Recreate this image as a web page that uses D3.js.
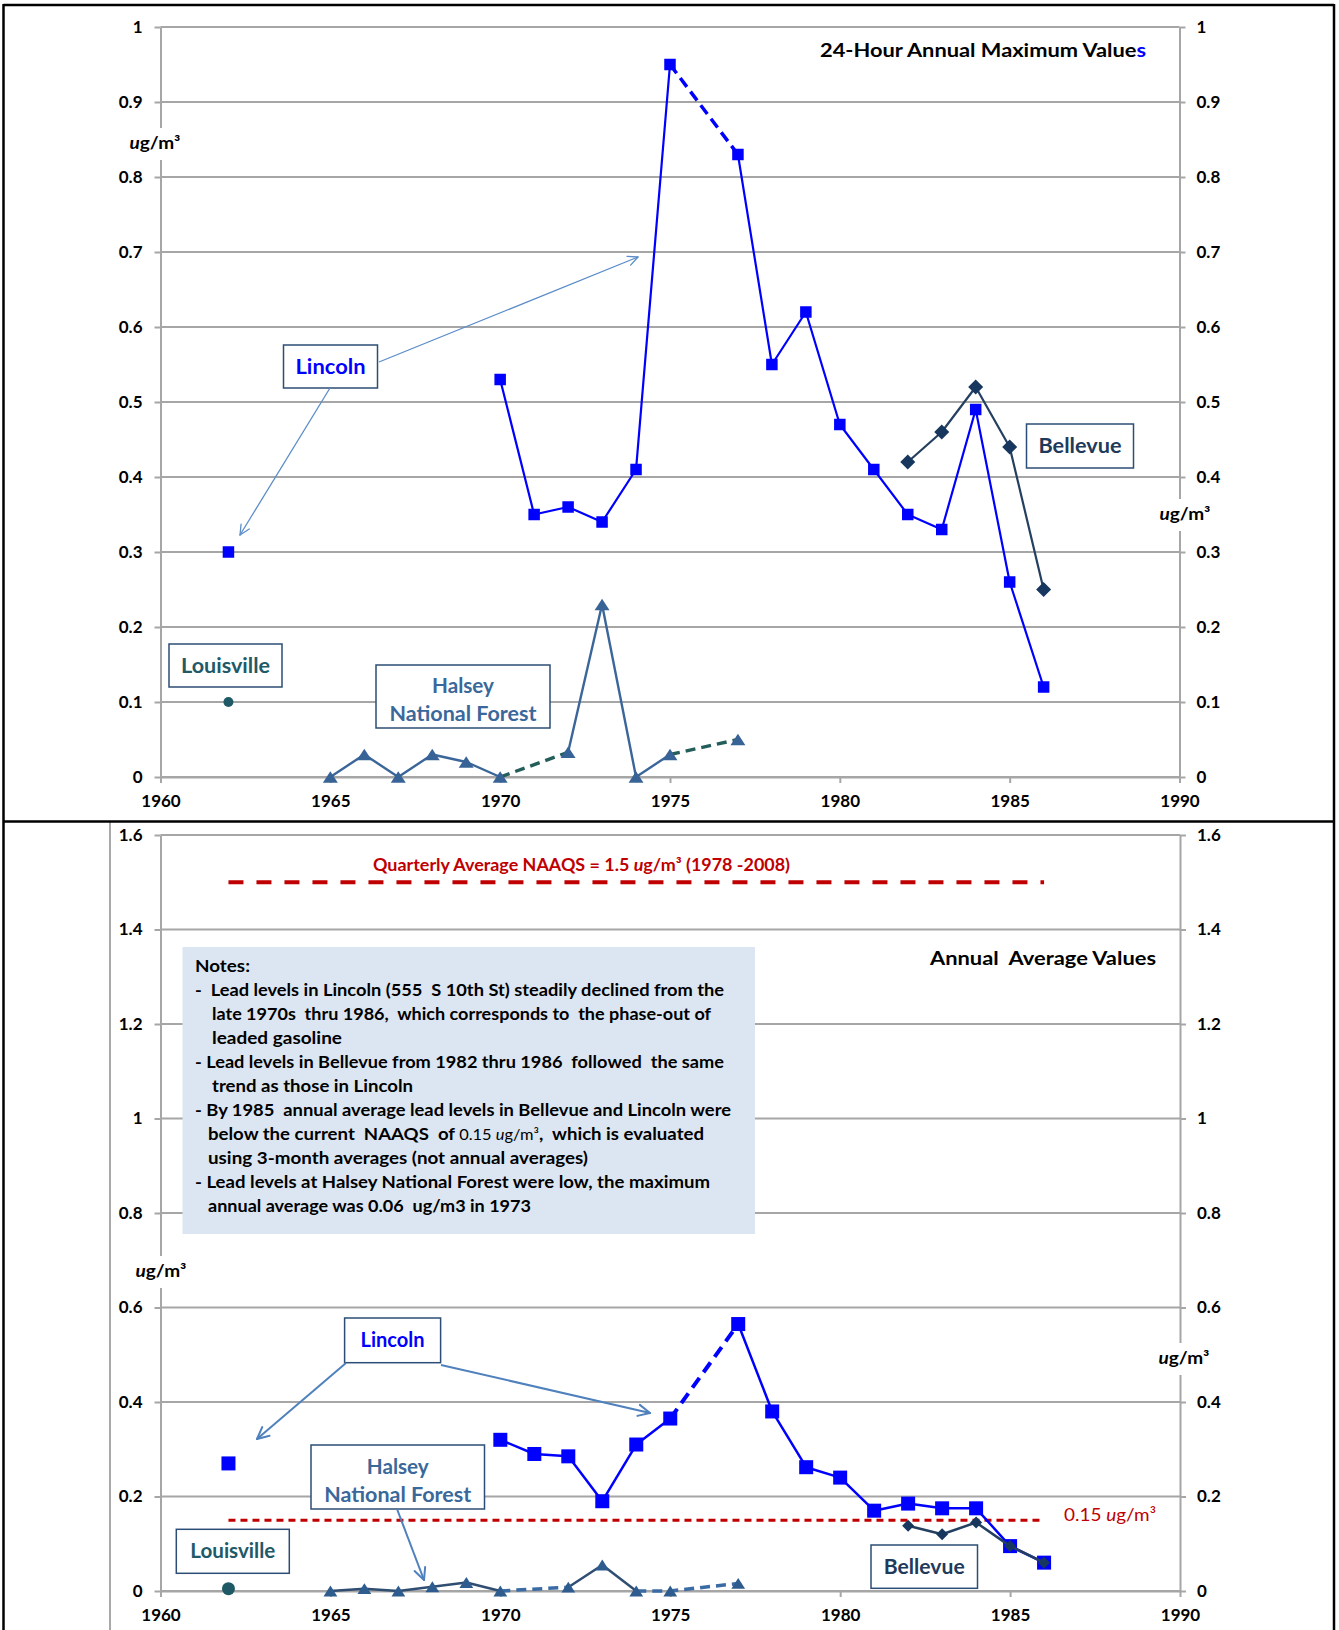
<!DOCTYPE html>
<html><head><meta charset="utf-8">
<script src="https://cdn.jsdelivr.net/npm/d3@7/dist/d3.min.js"></script>
<style>
body{margin:0;background:#fff;}
svg{display:block;font-family:Lato,'Open Sans',sans-serif;}
</style></head><body>
<svg id="c" width="1339" height="1630"></svg>
<script>
// ================= DATA =================
const xTickYears = [1960, 1965, 1970, 1975, 1980, 1985, 1990];
const topYTicks = [0, 0.1, 0.2, 0.3, 0.4, 0.5, 0.6, 0.7, 0.8, 0.9, 1];
const bottomYTicks = [0, 0.2, 0.4, 0.6, 0.8, 1, 1.2, 1.4, 1.6];

const lincolnYears = [1962, 1970, 1971, 1972, 1973, 1974, 1975, 1977, 1978, 1979, 1980, 1981, 1982, 1983, 1984, 1985, 1986];
const lincolnMax   = [0.30, 0.53, 0.35, 0.36, 0.34, 0.41, 0.95, 0.83, 0.55, 0.62, 0.47, 0.41, 0.35, 0.33, 0.49, 0.26, 0.12];
const lincolnAvg   = [0.27, 0.32, 0.29, 0.285, 0.19, 0.31, 0.365, 0.565, 0.38, 0.262, 0.24, 0.17, 0.185, 0.175, 0.175, 0.095, 0.06];

const bellevueYears = [1982, 1983, 1984, 1985, 1986];
const bellevueMax   = [0.42, 0.46, 0.52, 0.44, 0.25];
const bellevueAvg   = [0.138, 0.12, 0.145, 0.095, 0.06];

const louisvilleYears = [1962];
const louisvilleMax   = [0.10];
const louisvilleAvg   = [0.005];

const halseyYears = [1965, 1966, 1967, 1968, 1969, 1970, 1972, 1973, 1974, 1975, 1977];
const halseyMax   = [0, 0.03, 0, 0.03, 0.02, 0, 0.033, 0.23, 0, 0.03, 0.05];
const halseyAvg   = [0, 0.005, 0, 0.009, 0.018, 0, 0.008, 0.055, 0, 0, 0.016];

const naaqsQuarterly = 1.5;
const naaqsCurrent = 0.15;
const naaqsYears = [1962, 1986];

// line runs (start year, end year, style)
const lincolnRuns   = [[1970, 1975, 'solid'], [1975, 1977, 'dash'], [1977, 1986, 'solid']];
const bellevueRuns  = [[1982, 1986, 'solid']];
const halseyMaxRuns = [[1965, 1970, 'solid'], [1970, 1972, 'dash'], [1972, 1975, 'solid'], [1975, 1977, 'dash']];
const halseyAvgRuns = [[1965, 1970, 'solid'], [1970, 1972, 'dash'], [1972, 1974, 'solid'], [1974, 1977, 'dash']];

const notesLines = [
  "Notes:",
  "-  Lead levels in Lincoln (555  S 10th St) steadily declined from the",
  "late 1970s  thru 1986,  which corresponds to  the phase-out of",
  "leaded gasoline",
  "- Lead levels in Bellevue from 1982 thru 1986  followed  the same",
  "trend as those in Lincoln",
  "- By 1985  annual average lead levels in Bellevue and Lincoln were",
  "below the current  NAAQS  of |0.15 |u|g/m³|,  which is evaluated",
  "using 3-month averages (not annual averages)",
  "- Lead levels at Halsey National Forest were low, the maximum",
  "annual average was 0.06  ug/m3 in 1973"
];

// ================= DRAWING =================
const svg = d3.select('#c');
const FONT = "Lato,'Open Sans',sans-serif";

const xTop = d3.scaleLinear().domain([1960, 1990]).range([160.5, 1179.5]);
const yTop = d3.scaleLinear().domain([0, 1]).range([777, 27]);
const xBot = d3.scaleLinear().domain([1960, 1990]).range([160.5, 1180]);
const yBot = d3.scaleLinear().domain([0, 1.6]).range([1591, 835]);

const fmt = d => String(+d.toFixed(1));

// frame
svg.append('rect').attr('x', 0).attr('y', 0).attr('width', 1339).attr('height', 1630).attr('fill', '#fff');
svg.append('line').attr('x1', 110).attr('x2', 110).attr('y1', 822).attr('y2', 1630).attr('stroke', '#8c8c8c').attr('stroke-width', 1.5);

function drawAxes(g, x, y, yTicks) {
  const [y0, y1] = y.range();
  const [x0, x1] = x.range();
  g.append('g').selectAll('line').data(yTicks).join('line')
    .attr('x1', x0).attr('x2', x1)
    .attr('y1', d => y(d)).attr('y2', d => y(d))
    .attr('stroke', '#a6a6a6').attr('stroke-width', 2);
  const styleAxis = a => {
    a.selectAll('path.domain').attr('stroke', '#a6a6a6').attr('stroke-width', 2);
    a.selectAll('.tick line').attr('stroke', '#a6a6a6').attr('stroke-width', 2);
    a.selectAll('text').attr('fill', '#000').attr('font-weight', 'bold').attr('font-size', 17).attr('font-family', FONT);
  };
  const left = g.append('g').attr('transform', `translate(${x0},0)`)
    .call(d3.axisLeft(y).tickValues(yTicks).tickFormat(fmt).tickSize(6).tickSizeOuter(0).tickPadding(12));
  styleAxis(left);
  const right = g.append('g').attr('transform', `translate(${x1},0)`)
    .call(d3.axisRight(y).tickValues(yTicks).tickFormat(fmt).tickSize(6).tickSizeOuter(0).tickPadding(11));
  styleAxis(right);
  const bottom = g.append('g').attr('transform', `translate(0,${y0})`)
    .call(d3.axisBottom(x).tickValues(xTickYears).tickFormat(d3.format('d')).tickSize(6).tickSizeOuter(0).tickPadding(12));
  styleAxis(bottom);
}

function unitLabel(g, cx, cy) {
  g.append('rect').attr('x', cx - 28).attr('y', cy - 15).attr('width', 56).attr('height', 32).attr('fill', '#fff');
  const t = g.append('text').attr('x', cx).attr('y', cy + 6).attr('text-anchor', 'middle')
    .attr('font-size', 17).attr('font-weight', 'bold').attr('fill', '#000').attr('font-family', FONT)
    .attr('textLength', 51).attr('lengthAdjust', 'spacingAndGlyphs');
  t.append('tspan').attr('font-style', 'italic').text('u');
  t.append('tspan').text('g/m³');
}

function marker(g, type, cx, cy, s, color) {
  if (type === 'square') {
    g.append('rect').attr('x', cx - s / 2).attr('y', cy - s / 2).attr('width', s).attr('height', s).attr('fill', color);
  } else if (type === 'diamond') {
    const h = s / 2;
    g.append('path').attr('d', `M${cx},${cy - h}L${cx + h},${cy}L${cx},${cy + h}L${cx - h},${cy}Z`).attr('fill', color);
  } else if (type === 'triangle') {
    const w = s * 1.15, h = s * 0.9;
    g.append('path').attr('d', `M${cx},${cy - h / 2}L${cx + w / 2},${cy + h / 2}L${cx - w / 2},${cy + h / 2}Z`).attr('fill', color);
  } else {
    g.append('circle').attr('cx', cx).attr('cy', cy).attr('r', s / 2).attr('fill', color);
  }
}

function drawSeries(g, x, y, years, values, runs, st) {
  const pts = years.map((yr, i) => ({ year: yr, value: values[i] }));
  const line = d3.line().x(d => x(d.year)).y(d => y(d.value));
  runs.forEach(([a, b, kind]) => {
    const seg = pts.filter(p => p.year >= a && p.year <= b);
    const p = g.append('path').attr('d', line(seg)).attr('fill', 'none')
      .attr('stroke-linejoin', 'round');
    if (kind === 'dash') {
      p.attr('stroke', st.dashColor).attr('stroke-width', st.dashWidth).attr('stroke-dasharray', st.dashArray);
    } else {
      p.attr('stroke', st.lineColor).attr('stroke-width', st.lineWidth);
    }
  });
  pts.forEach(p => marker(g, st.marker, x(p.year), y(p.value), st.size, st.markerColor));
}

function labelBox(g, x, y, w, h, lines, color, tl) {
  g.append('rect').attr('x', x).attr('y', y).attr('width', w).attr('height', h)
    .attr('fill', '#fff').attr('stroke', '#2c4d75').attr('stroke-width', 1.5);
  const cx = x + w / 2;
  const n = lines.length;
  lines.forEach((s, i) => {
    const cy = n === 1 ? y + h / 2 : y + h * (0.34 + 0.44 * i);
    g.append('text').attr('x', cx).attr('y', cy + 7).attr('text-anchor', 'middle')
      .attr('font-size', 21).attr('font-weight', 'bold').attr('fill', color).attr('font-family', FONT)
      .attr('textLength', tl[i]).attr('lengthAdjust', 'spacingAndGlyphs').text(s);
  });
}

function arrow(g, x1, y1, x2, y2, color, width, head) {
  g.append('line').attr('x1', x1).attr('y1', y1).attr('x2', x2).attr('y2', y2)
    .attr('stroke', color).attr('stroke-width', width);
  const ang = Math.atan2(y2 - y1, x2 - x1);
  [0.45, -0.45].forEach(da => {
    const a = ang + Math.PI + da;
    g.append('line').attr('x1', x2).attr('y1', y2)
      .attr('x2', x2 + head * Math.cos(a)).attr('y2', y2 + head * Math.sin(a))
      .attr('stroke', color).attr('stroke-width', width).attr('stroke-linecap', 'round');
  });
}

// ---------- TOP CHART ----------
const gt = svg.append('g');
drawAxes(gt, xTop, yTop, topYTicks);
unitLabel(gt, 155, 143);
unitLabel(gt, 1185, 514);

gt.append('text').attr('x', 1146).attr('y', 57).attr('text-anchor', 'end')
  .attr('font-size', 19).attr('font-weight', 'bold').attr('font-family', FONT)
  .attr('textLength', 326).attr('lengthAdjust', 'spacingAndGlyphs')
  .call(t => { t.append('tspan').attr('fill', '#000').text('24-Hour Annual Maximum Value'); t.append('tspan').attr('fill', '#0000ff').text('s'); });

drawSeries(gt, xTop, yTop, halseyYears, halseyMax, halseyMaxRuns,
  { lineColor: '#3b6699', lineWidth: 2.4, dashColor: '#245e5a', dashWidth: 3.4, dashArray: '10,6', marker: 'triangle', size: 13, markerColor: '#386396' });
drawSeries(gt, xTop, yTop, bellevueYears, bellevueMax, bellevueRuns,
  { lineColor: '#243f60', lineWidth: 2.2, marker: 'diamond', size: 15, markerColor: '#17375e' });
drawSeries(gt, xTop, yTop, lincolnYears, lincolnMax, lincolnRuns,
  { lineColor: '#0000ff', lineWidth: 2.2, dashColor: '#0000ff', dashWidth: 3.5, dashArray: '11,6', marker: 'square', size: 11.5, markerColor: '#0000ff' });
drawSeries(gt, xTop, yTop, louisvilleYears, louisvilleMax, [],
  { marker: 'circle', size: 10, markerColor: '#1f5966' });

labelBox(gt, 283.5, 345, 94, 43, ['Lincoln'], '#0000ff', [70]);
labelBox(gt, 169, 644, 113, 43, ['Louisville'], '#215967', [89]);
labelBox(gt, 376, 665, 174, 63, ['Halsey', 'National Forest'], '#3a689b', [62, 147]);
labelBox(gt, 1026.5, 424, 107, 44, ['Bellevue'], '#1f3a5a', [83]);
arrow(gt, 379, 362, 638, 257, '#5b8dc8', 1.3, 11);
arrow(gt, 330, 388, 240, 535, '#5b8dc8', 1.3, 11);

// ---------- BOTTOM CHART ----------
const gb = svg.append('g');
drawAxes(gb, xBot, yBot, bottomYTicks);
unitLabel(gb, 161, 1271);
unitLabel(gb, 1184, 1358);

gb.append('line').attr('x1', xBot(naaqsYears[0])).attr('x2', xBot(naaqsYears[1]))
  .attr('y1', yBot(naaqsQuarterly)).attr('y2', yBot(naaqsQuarterly))
  .attr('stroke', '#c00000').attr('stroke-width', 4).attr('stroke-dasharray', '15,13');
gb.append('text').attr('x', 373).attr('y', 871).attr('font-size', 16.5).attr('font-weight', 'bold')
  .attr('fill', '#c00000').attr('font-family', FONT).attr('textLength', 417).attr('lengthAdjust', 'spacingAndGlyphs')
  .call(t => {
    t.append('tspan').text('Quarterly Average NAAQS = 1.5 ');
    t.append('tspan').attr('font-style', 'italic').text('u');
    t.append('tspan').text('g/m³ (1978 -2008)');
  });

gb.append('text').attr('x', 1156).attr('y', 965).attr('text-anchor', 'end').attr('font-size', 19)
  .attr('font-weight', 'bold').attr('fill', '#000').attr('font-family', FONT).style('white-space', 'pre')
  .attr('textLength', 226).attr('lengthAdjust', 'spacingAndGlyphs').text('Annual  Average Values');

gb.append('rect').attr('x', 182.5).attr('y', 947).attr('width', 572.5).attr('height', 287).attr('fill', '#dce6f2');
const notesX = [195, 195, 212, 212, 195, 212, 195, 208, 208, 195, 208];
const notesW = [55, 529, 499, 130, 529, 201, 536, 496, 380, 515, 323];
notesLines.forEach((s, i) => {
  const t = gb.append('text').attr('x', notesX[i]).attr('y', 972 + 24 * i)
    .attr('font-size', 17).attr('font-weight', 'bold').attr('fill', '#000').attr('font-family', FONT)
    .style('white-space', 'pre').attr('textLength', notesW[i]).attr('lengthAdjust', 'spacingAndGlyphs');
  if (s.includes('|')) {
    const parts = s.split('|');
    t.append('tspan').text(parts[0]);
    t.append('tspan').attr('font-weight', 'normal').attr('font-size', 15).text(parts[1]);
    t.append('tspan').attr('font-weight', 'normal').attr('font-size', 15).attr('font-style', 'italic').text(parts[2]);
    t.append('tspan').attr('font-weight', 'normal').attr('font-size', 15).text(parts[3]);
    t.append('tspan').text(parts[4]);
  } else {
    t.text(s);
  }
});

gb.append('line').attr('x1', xBot(naaqsYears[0])).attr('x2', xBot(naaqsYears[1]))
  .attr('y1', yBot(naaqsCurrent)).attr('y2', yBot(naaqsCurrent))
  .attr('stroke', '#c00000').attr('stroke-width', 3).attr('stroke-dasharray', '7,5');
gb.append('text').attr('x', 1064).attr('y', 1521).attr('font-size', 17.5).attr('fill', '#c00000')
  .attr('font-family', FONT).attr('textLength', 92).attr('lengthAdjust', 'spacingAndGlyphs')
  .call(t => {
    t.append('tspan').text('0.15 ');
    t.append('tspan').attr('font-style', 'italic').text('u');
    t.append('tspan').text('g/m³');
  });

drawSeries(gb, xBot, yBot, halseyYears, halseyAvg, halseyAvgRuns,
  { lineColor: '#2f4e72', lineWidth: 2.5, dashColor: '#3b6ba5', dashWidth: 3.5, dashArray: '10,6', marker: 'triangle', size: 12, markerColor: '#2e5c8e' });
drawSeries(gb, xBot, yBot, lincolnYears, lincolnAvg, lincolnRuns,
  { lineColor: '#0000ff', lineWidth: 2.5, dashColor: '#0000ff', dashWidth: 4, dashArray: '12,7', marker: 'square', size: 14, markerColor: '#0000ff' });
drawSeries(gb, xBot, yBot, bellevueYears, bellevueAvg, bellevueRuns,
  { lineColor: '#243f60', lineWidth: 2.5, marker: 'diamond', size: 12, markerColor: '#17375e' });
drawSeries(gb, xBot, yBot, louisvilleYears, louisvilleAvg, [],
  { marker: 'circle', size: 13, markerColor: '#1f5966' });

labelBox(gb, 344.6, 1318, 96, 44.7, ['Lincoln'], '#0000ff', [64]);
labelBox(gb, 311, 1445, 173.5, 64, ['Halsey', 'National Forest'], '#3a689b', [62, 147]);
labelBox(gb, 176.3, 1529.3, 113, 44, ['Louisville'], '#215967', [85]);
labelBox(gb, 871, 1545, 106.5, 43.3, ['Bellevue'], '#1f3a5a', [81]);
arrow(gb, 346, 1363, 257, 1439, '#4f81bd', 2, 13);
arrow(gb, 441, 1365, 650, 1413, '#4f81bd', 2, 13);
arrow(gb, 397, 1509, 424, 1580, '#4f81bd', 2, 13);

const frame = svg.append('g').attr('stroke', '#000').attr('stroke-width', 2.5);
frame.append('line').attr('x1', 3.5).attr('x2', 1334).attr('y1', 5).attr('y2', 5);
frame.append('line').attr('x1', 3.5).attr('x2', 3.5).attr('y1', 4).attr('y2', 1630);
frame.append('line').attr('x1', 1334).attr('x2', 1334).attr('y1', 4).attr('y2', 1630);
frame.append('line').attr('x1', 3.5).attr('x2', 1334).attr('y1', 821.5).attr('y2', 821.5);
</script>
</body></html>
